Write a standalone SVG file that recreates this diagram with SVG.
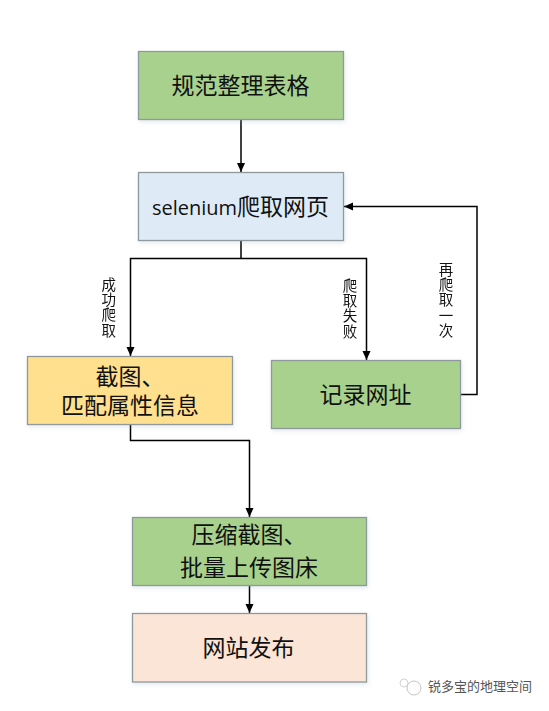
<svg xmlns="http://www.w3.org/2000/svg" width="549" height="711" viewBox="0 0 549 711">
<style>
.box{stroke:#8f989c;stroke-width:1.3}
.t{font-family:"Noto Sans CJK SC","Noto Sans",sans-serif;font-size:23px;fill:#111;text-anchor:middle}
.l{font-family:"Open Sans","Noto Sans",sans-serif;font-size:20px}
.v{font-family:"Noto Sans CJK SC",sans-serif;font-size:14.500px;letter-spacing:.8px;fill:#111;writing-mode:vertical-rl}
.c{fill:none;stroke:#000;stroke-width:1.5}
.wm{font-family:"Noto Sans CJK SC",sans-serif;font-size:13px;fill:#555}
</style>
<defs>
<marker id="a" markerUnits="userSpaceOnUse" markerWidth="11" markerHeight="10" refX="9" refY="4" orient="auto"><path d="M0 0L9 4L0 8Z" fill="#000"/></marker>
<filter id="s" x="-5%" y="-10%" width="110%" height="125%"><feDropShadow dx="1" dy="2" stdDeviation="2" flood-color="#8aa0b8" flood-opacity=".22"/></filter>
</defs>
<rect width="549" height="711" fill="#fff"/>
<g id="connectors">
<path class="c" marker-end="url(#a)" d="M241 119V172"/>
<path class="c" d="M241 240V258.500"/>
<path class="c" marker-end="url(#a)" d="M241 258.500H130.500V356"/>
<path class="c" marker-end="url(#a)" d="M241 258.500H366.500V360"/>
<path class="c" marker-end="url(#a)" d="M460.500 394.500H477V206.500H344"/>
<path class="c" marker-end="url(#a)" d="M130.500 424V440.500H249.500V517"/>
<path class="c" marker-end="url(#a)" d="M249.500 585V613"/>
</g>
<g id="n1"><rect class="box" filter="url(#s)" x="138.500" y="51.500" width="205" height="68" fill="#a9d18e"/><text class="t" x="240.500" y="93.500">规范整理表格</text></g>
<g id="n2"><rect class="box" filter="url(#s)" x="138.500" y="172.500" width="205" height="68" fill="#deebf7"/><text class="t" x="240.500" y="214.500"><tspan class="l">selenium</tspan>爬取网页</text></g>
<g id="n3"><rect class="box" filter="url(#s)" x="27.500" y="356.500" width="205" height="68" fill="#ffe08f"/><text class="t"><tspan x="130" y="385">截图、</tspan><tspan x="130" y="414">匹配属性信息</tspan></text></g>
<g id="n4"><rect class="box" filter="url(#s)" x="271.500" y="360.500" width="189" height="68" fill="#a9d18e"/><text class="t" x="365.500" y="402.500">记录网址</text></g>
<g id="n5"><rect class="box" filter="url(#s)" x="132.500" y="517.500" width="234" height="68" fill="#a9d18e"/><text class="t"><tspan x="249" y="543">压缩截图、</tspan><tspan x="249" y="576">批量上传图床</tspan></text></g>
<g id="n6"><rect class="box" filter="url(#s)" x="132.500" y="613.500" width="234" height="68.500" fill="#fbe5d6"/><text class="t" x="248.500" y="655.500">网站发布</text></g>
<g id="labels" opacity=".99">
<text class="v" x="108.700" y="277">成功爬取</text>
<text class="v" x="350" y="278">爬取失败</text>
<text class="v" x="446" y="262">再爬取一次</text>
</g>
<g id="watermark">
<circle cx="404" cy="683" r="4" fill="#fff" stroke="#d4d4d4" stroke-width="1"/>
<circle cx="414" cy="688" r="7" fill="#fff" stroke="#c4c4c4" stroke-width="1"/>
<text class="wm" x="428" y="691">锐多宝的地理空间</text>
</g>
</svg>
